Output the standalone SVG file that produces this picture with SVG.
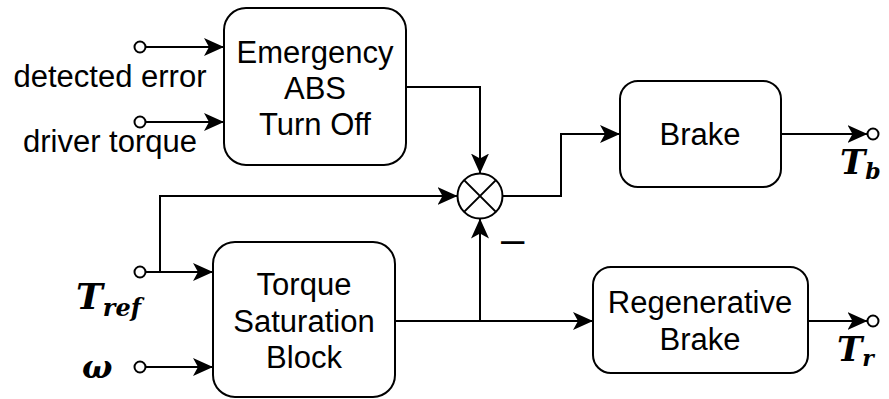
<svg xmlns="http://www.w3.org/2000/svg" width="889" height="399" viewBox="0 0 889 399">
<style>
.box{fill:#fff;stroke:#000;stroke-width:2}
.lbl{font-family:"Liberation Sans",Arial,sans-serif;font-size:31px;fill:#000;text-anchor:middle}
.w{fill:none;stroke:#000;stroke-width:2}
.port{fill:#fff;stroke:#000;stroke-width:2}
.math{font-family:"DejaVu Serif","Liberation Serif",serif;font-weight:bold;font-style:italic;fill:#000}
</style>
<defs>
<marker id="arr" markerUnits="userSpaceOnUse" markerWidth="21" markerHeight="19" refX="20" refY="9" orient="auto" viewBox="0 0 21 19">
<path d="M0,0 L20,9 L0,18 L5,9 Z" fill="#000"/>
</marker>
</defs>
<g id="connectors">
<path class="w" d="M145.5,47 L224,47" marker-end="url(#arr)"/>
<path class="w" d="M145.5,122 L224,122" marker-end="url(#arr)"/>
<path class="w" d="M406,87 L480,87 L480,173.5" marker-end="url(#arr)"/>
<path class="w" d="M145.5,272 L213,272" marker-end="url(#arr)"/>
<path class="w" d="M160,272 L160,196 L457.5,196" marker-end="url(#arr)"/>
<path class="w" d="M145.5,367 L213,367" marker-end="url(#arr)"/>
<path class="w" d="M395,321 L593,321" marker-end="url(#arr)"/>
<path class="w" d="M480,321 L480,218.5" marker-end="url(#arr)"/>
<path class="w" d="M502.5,196 L561,196 L561,134 L620,134" marker-end="url(#arr)"/>
<path class="w" d="M781,134 L867.5,134" marker-end="url(#arr)"/>
<path class="w" d="M808,321 L867.5,321" marker-end="url(#arr)"/>
</g>
<g id="in-detected-error">
<circle class="port" cx="140" cy="47" r="5.5"/>
<text class="lbl" x="110" y="87">detected error</text>
</g>
<g id="in-driver-torque">
<circle class="port" cx="140" cy="122" r="5.5"/>
<text class="lbl" x="110" y="152">driver torque</text>
</g>
<g id="in-tref">
<circle class="port" cx="140" cy="272" r="5.5"/>
<text class="math" x="76" y="309" font-size="36">T<tspan font-size="24" dy="7">ref</tspan></text>
</g>
<g id="in-omega">
<circle class="port" cx="140" cy="367" r="5.5"/>
<text class="math" x="82" y="378" font-size="32">ω</text>
</g>
<g id="emergency">
<rect class="box" x="224" y="8" width="182" height="157" rx="22"/>
<text class="lbl" x="315" y="63">Emergency</text>
<text class="lbl" x="315" y="99">ABS</text>
<text class="lbl" x="315" y="135">Turn Off</text>
</g>
<g id="torque-saturation">
<rect class="box" x="213" y="242" width="182" height="155" rx="22"/>
<text class="lbl" x="304" y="295">Torque</text>
<text class="lbl" x="304" y="332">Saturation</text>
<text class="lbl" x="304" y="368">Block</text>
</g>
<g id="sum">
<circle class="box" cx="480" cy="196" r="22.5"/>
<path class="w" d="M464.1,180.1 L495.9,211.9 M495.9,180.1 L464.1,211.9"/>
<text x="501" y="253" font-family="Liberation Sans,Arial,sans-serif" font-size="42">–</text>
</g>
<g id="brake">
<rect class="box" x="620" y="81" width="161" height="106" rx="18"/>
<text class="lbl" x="700" y="145">Brake</text>
</g>
<g id="regen">
<rect class="box" x="593" y="267" width="215" height="106" rx="18"/>
<text class="lbl" x="700" y="313">Regenerative</text>
<text class="lbl" x="700" y="350">Brake</text>
</g>
<g id="out-tb">
<circle class="port" cx="873" cy="134" r="5.5"/>
<text class="math" x="840" y="174" font-size="34">T<tspan font-size="22" dy="5">b</tspan></text>
</g>
<g id="out-tr">
<circle class="port" cx="873" cy="321" r="5.5"/>
<text class="math" x="837" y="361" font-size="34">T<tspan font-size="22" dy="5">r</tspan></text>
</g>
</svg>
